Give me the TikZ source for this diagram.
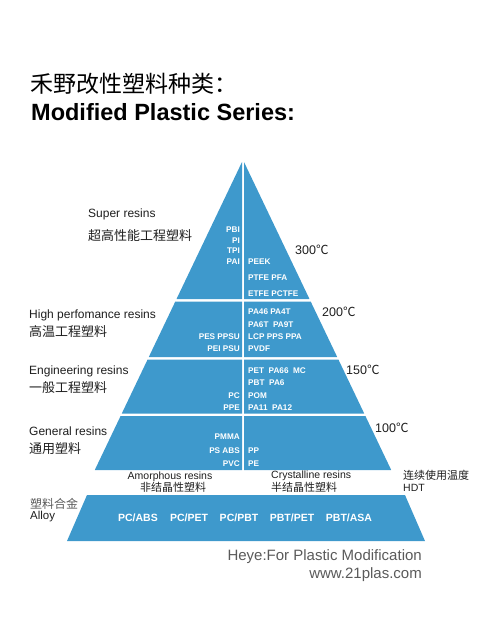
\documentclass[tikz,border=0pt]{standalone}
\usepackage{fontspec}
\setmainfont{Liberation Sans}
\newfontfamily\cjk{Noto Sans CJK SC}
\usetikzlibrary{positioning}

\definecolor{pyblue}{RGB}{62,153,204}
\definecolor{inkgray}{RGB}{30,30,30}
\definecolor{footgray}{RGB}{90,90,90}

\begin{document}
\begin{tikzpicture}[
    x=1pt, y=-1pt,
    tier/.style={fill=pyblue},
    resin/.style={inner sep=0pt, text=white, font=\bfseries\fontsize{8.2}{9}\selectfont},
    resinL/.style={resin, anchor=east},
    resinR/.style={resin, anchor=west},
    blend/.style={inner sep=0pt, text=white, font=\bfseries\fontsize{10.5}{12}\selectfont},
    grade/.style={inner sep=0pt, anchor=west, text=inkgray, font=\fontsize{12}{14}\selectfont},
    gradecn/.style={inner sep=0pt, anchor=west, text=inkgray, font=\cjk\fontsize{13}{15}\selectfont},
    temp/.style={inner sep=0pt, anchor=west, text=inkgray, font=\fontsize{12.5}{14}\selectfont},
    kind/.style={inner sep=0pt, text=inkgray, font=\fontsize{10.5}{12}\selectfont},
    kindcn/.style={inner sep=0pt, text=inkgray, font=\cjk\fontsize{11}{13}\selectfont},
    foot/.style={inner sep=0pt, anchor=east, text=footgray, font=\fontsize{15}{17}\selectfont},
]

\useasboundingbox (0,0) rectangle (500,633);

% pyramid geometry
\def\cx{243}     % centre line
\def\ay{162}     % apex
\def\k{0.478}    % half width per unit of depth

% --- titles ---
\node[anchor=west, inner sep=0pt, font=\cjk\fontsize{23}{25}\selectfont] (titlecn) at (30,84) {禾野改性塑料种类：};
\node[anchor=west, inner sep=0pt, font=\bfseries\fontsize{23.5}{26}\selectfont] (titleen) at (31,112) {Modified Plastic Series:};

% --- pyramid tiers (left and right halves) ---
\foreach \ya/\yb in {162/299, 301.5/357, 359.5/413.5, 416/470} {
    \fill[tier] ({\cx-1-\k*(\ya-\ay)},\ya) -- (\cx-1,\ya) -- (\cx-1,\yb) -- ({\cx-1-\k*(\yb-\ay)},\yb) -- cycle;
    \fill[tier] ({\cx+1+\k*(\ya-\ay)},\ya) -- (\cx+1,\ya) -- (\cx+1,\yb) -- ({\cx+1+\k*(\yb-\ay)},\yb) -- cycle;
}

% alloy band
\fill[tier] (87,495) -- (405,495) -- (425,541) -- (67,541) -- cycle;

% --- super resins ---
\node[resinL] (pbi) at (240,230) {PBI};
\node[resinL] (pi)  at (240,240.5) {PI};
\node[resinL] (tpi) at (240,251) {TPI};
\node[resinL] (pai) at (240,262) {PAI};
\node[resinR] (peek) at (248,262) {PEEK};
\node[resinR] (ptfe) at (248,278) {PTFE PFA};
\node[resinR] (etfe) at (248,294) {ETFE PCTFE};

% --- high performance ---
\node[resinR] (pa46) at (248,312) {PA46 PA4T};
\node[resinR] (pa6t) at (248,324.5) {PA6T\ \ PA9T};
\node[resinR] (lcp)  at (248,337) {LCP PPS PPA};
\node[resinR] (pvdf) at (248,349) {PVDF};
\node[resinL] (pes)  at (240,337) {PES PPSU};
\node[resinL] (pei)  at (240,349) {PEI PSU};

% --- engineering ---
\node[resinR] (pet)  at (248,371) {PET\ \ PA66\ \ MC};
\node[resinR] (pbt)  at (248,383) {PBT\ \ PA6};
\node[resinR] (pom)  at (248,396) {POM};
\node[resinR] (pa11) at (248,408) {PA11\ \ PA12};
\node[resinL] (pc)   at (240,396) {PC};
\node[resinL] (ppe)  at (240,408) {PPE};

% --- general ---
\node[resinL] (pmma) at (240,437) {PMMA};
\node[resinL] (ps)   at (240,451) {PS ABS};
\node[resinL] (pvc)  at (240,464) {PVC};
\node[resinR] (pp)   at (248,451) {PP};
\node[resinR] (pe)   at (248,464) {PE};

% --- alloys ---
\node[blend] (pcabs) at (138,518) {PC/ABS};
\node[blend] (pcpet) at (189,518) {PC/PET};
\node[blend] (pcpbt) at (239,518) {PC/PBT};
\node[blend] (pbtpet) at (292,518) {PBT/PET};
\node[blend] (pbtasa) at (349,518) {PBT/ASA};

% --- grade labels (left) ---
\node[grade]   (super)   at (88,214) {Super resins};
\node[gradecn] (supercn) at (88,236) {超高性能工程塑料};
\node[grade]   (high)    at (29,315) {High perfomance resins};
\node[gradecn] (highcn)  at (29,332) {高温工程塑料};
\node[grade]   (eng)     at (29,371) {Engineering resins};
\node[gradecn] (engcn)   at (29,388) {一般工程塑料};
\node[grade]   (gen)     at (29,431) {General resins};
\node[gradecn] (gencn)   at (29,449) {通用塑料};

% --- temperatures (right) ---
\node[temp] (t300) at (295,250) {300{\cjk ℃}};
\node[temp] (t200) at (322,312) {200{\cjk ℃}};
\node[temp] (t150) at (346,370) {150{\cjk ℃}};
\node[temp] (t100) at (375,428) {100{\cjk ℃}};

% --- under the pyramid ---
\node[kind]   (amor)   at (170,477) {Amorphous resins};
\node[kindcn] (amorcn) at (173,487.5) {非结晶性塑料};
\node[kind, anchor=west]   (cryst)   at (271,476) {Crystalline resins};
\node[kindcn, anchor=west] (crystcn) at (271,487.5) {半结晶性塑料};
\node[kindcn, anchor=west] (hdtcn)   at (403,475) {连续使用温度};
\node[kind, anchor=west]   (hdt)     at (403,488) {HDT};

\node[kindcn, anchor=west, text=footgray, font=\cjk\fontsize{12}{14}\selectfont] (alloycn) at (30,504) {塑料合金};
\node[kind, anchor=west, font=\fontsize{11.5}{13}\selectfont] (alloy) at (30,517) {Alloy};

% --- footer ---
\node[foot] (brand) at (422,557) {Heye:For Plastic Modification};
\node[foot] (web)   at (422,575) {www.21plas.com};

\end{tikzpicture}
\end{document}
